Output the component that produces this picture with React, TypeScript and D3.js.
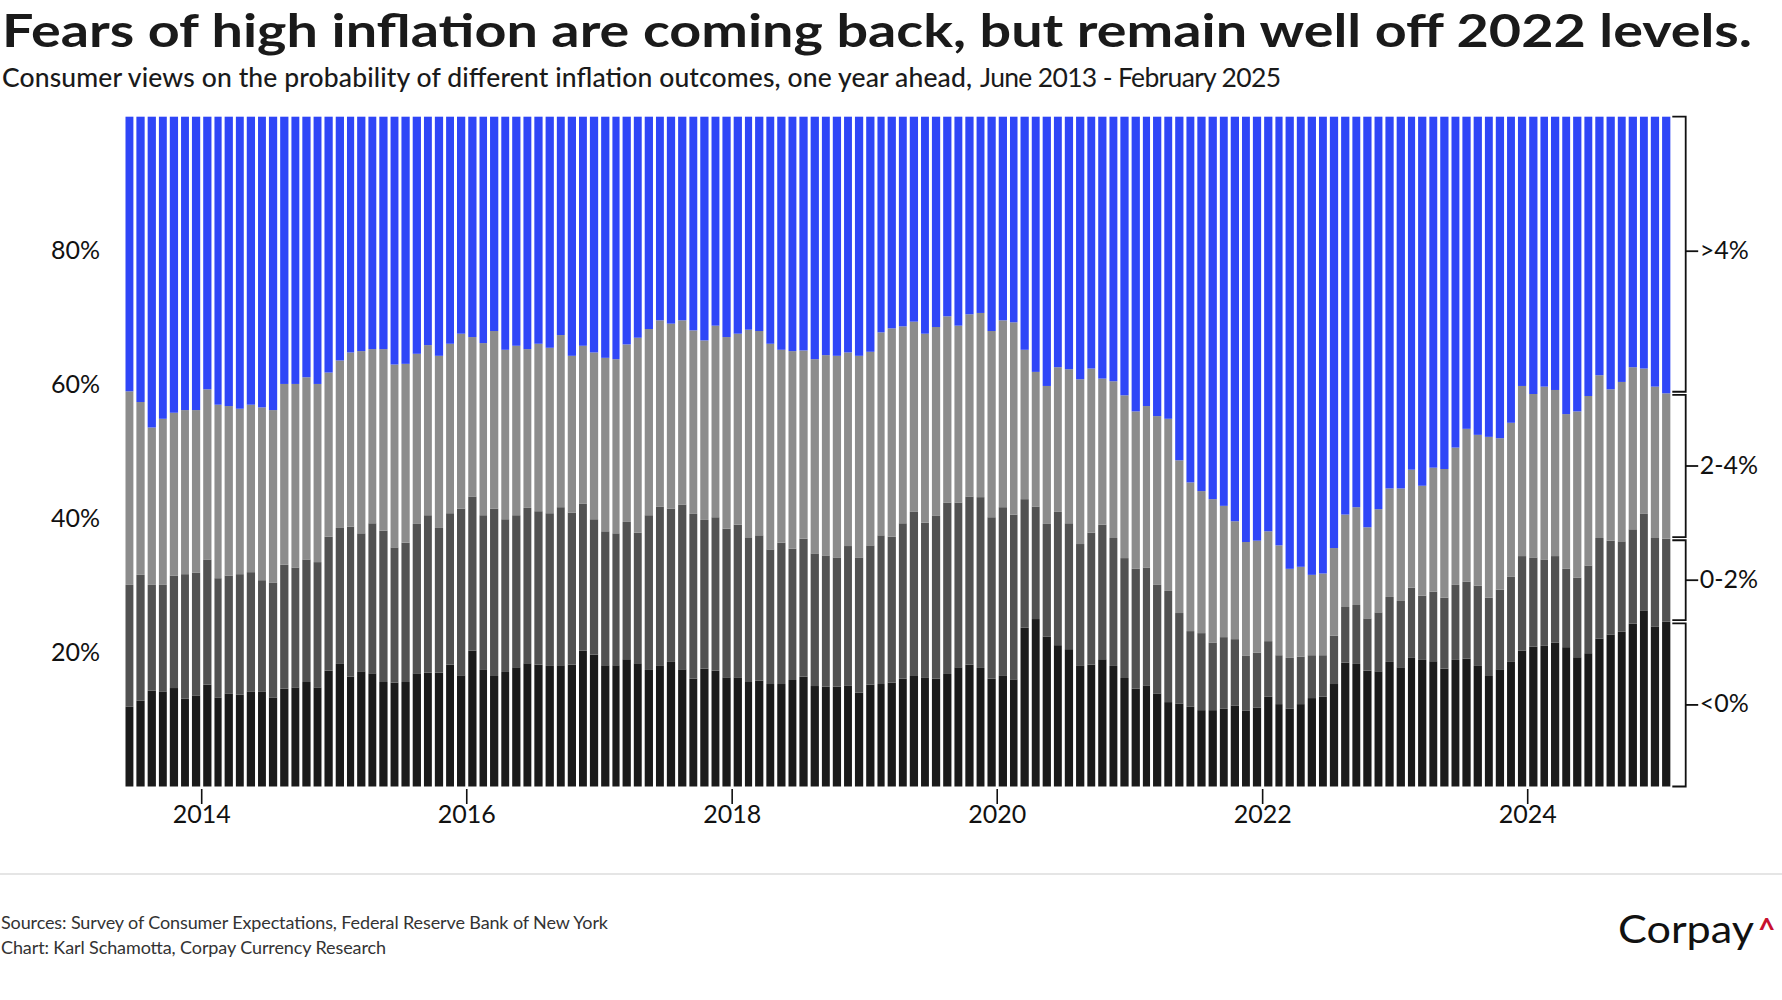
import React from "react";
import * as d3 from "d3";

// Monthly survey readings, June 2013 onward (share of probability, %)
const below0 = [11.9,12.8,14.3,14.2,14.7,13.1,13.6,15.2,13.3,13.9,13.7,14.2,14.2,13.3,14.6,14.8,15.6,14.8,17.3,18.3,16.4,17.2,16.9,15.6,15.5,15.6,16.9,17.0,17.0,18.2,16.6,20.3,17.4,16.5,17.1,17.8,18.4,18.2,18.0,18.1,18.2,20.3,19.7,18.1,18.1,19.0,18.4,17.4,18.0,18.6,17.5,16.1,17.6,17.3,16.3,16.3,15.6,15.8,15.3,15.3,15.9,16.4,15.0,14.9,14.9,15.1,14.0,15.2,15.3,15.5,16.1,16.5,16.3,16.1,16.8,17.8,18.2,17.7,16.1,16.6,16.0,23.7,25.0,22.4,21.1,20.5,18.0,18.2,19.0,18.0,16.2,14.6,15.1,13.9,12.6,12.4,11.9,11.4,11.4,11.6,12.1,11.3,11.8,13.4,12.3,11.6,12.3,13.2,13.4,15.3,18.5,18.3,17.3,17.2,18.6,17.8,19.2,18.9,18.7,17.6,18.9,19.1,18.0,16.5,17.5,18.6,20.3,20.9,21.0,21.5,20.8,19.3,19.9,22.1,22.7,23.1,24.3,26.3,23.9,24.6];
const from0to2 = [18.2,18.8,15.8,15.9,16.8,18.6,18.3,18.7,17.8,17.6,18.0,17.8,16.6,17.1,18.5,17.9,18.3,18.7,20.0,20.3,22.4,20.6,22.4,22.6,20.2,20.8,22.3,23.5,21.6,22.6,24.9,23.0,23.1,25.0,22.8,22.7,23.2,22.9,22.8,23.6,22.7,21.9,20.2,20.0,19.7,20.5,19.5,23.1,23.8,22.9,24.6,24.6,22.2,22.9,22.2,22.8,21.6,21.7,20.1,21.1,19.6,20.6,19.8,19.6,19.3,20.8,20.2,20.8,22.2,21.8,23.2,24.5,23.1,24.3,25.6,24.6,25.1,25.5,24.1,25.1,24.6,19.2,16.8,16.8,19.9,18.8,18.2,19.7,20.1,19.1,17.9,17.9,17.6,16.2,16.6,13.5,11.3,11.5,10.1,10.7,9.9,8.2,8.2,8.3,7.3,7.6,7.1,6.4,6.2,7.2,8.3,8.8,7.8,8.8,9.7,9.9,10.5,9.6,10.4,10.6,11.2,11.5,12.0,11.7,11.9,12.7,14.1,13.3,12.9,12.9,11.7,11.9,13.1,15.0,14.0,13.5,14.1,14.4,13.2,12.4];
const from2to4 = [28.9,25.8,23.5,24.8,24.3,24.5,24.3,25.4,25.9,25.3,24.7,25.0,25.8,25.8,27.0,27.4,27.2,26.6,24.5,25.0,26.0,27.2,26.0,27.1,27.3,26.7,25.4,25.4,25.7,25.3,26.1,23.8,25.7,26.5,25.3,25.3,23.7,25.0,24.7,25.7,23.4,23.6,24.9,25.9,26.0,26.5,29.1,27.8,27.8,27.6,27.5,27.4,26.8,28.6,28.6,28.5,31.0,30.5,30.7,28.8,29.5,28.1,29.0,29.9,30.1,28.9,30.1,28.9,30.3,31.1,29.4,28.4,28.2,28.2,27.8,26.4,27.2,27.5,27.8,27.9,28.7,22.3,20.1,20.6,21.6,23.0,24.6,24.5,21.8,23.4,24.3,23.5,24.1,25.2,25.7,22.8,22.2,21.2,21.4,19.6,17.6,17.0,16.7,16.4,16.4,13.3,13.4,12.0,12.2,13.1,13.8,14.6,13.6,15.4,16.2,16.8,17.6,16.4,18.5,19.2,20.5,22.8,22.5,24.0,22.6,23.0,25.4,24.4,25.8,24.8,23.1,24.8,25.3,24.3,22.6,23.8,24.2,21.7,22.6,21.7];
const above4 = [41.0,42.6,46.4,45.1,44.2,43.8,43.8,40.7,43.0,43.2,43.6,43.0,43.4,43.8,39.9,39.9,38.9,39.9,38.2,36.4,35.2,35.0,34.7,34.7,37.0,36.9,35.4,34.1,35.7,33.9,32.4,32.9,33.8,32.0,34.8,34.2,34.7,33.9,34.5,32.6,35.7,34.2,35.2,36.0,36.2,34.0,33.0,31.7,30.4,30.9,30.4,31.9,33.4,31.2,32.9,32.4,31.8,32.0,33.9,34.8,35.0,34.9,36.2,35.6,35.7,35.2,35.7,35.1,32.2,31.6,31.3,30.6,32.4,31.4,29.8,31.2,29.5,29.3,32.0,30.4,30.7,34.8,38.1,40.2,37.4,37.7,39.2,37.6,39.1,39.5,41.6,44.0,43.2,44.7,45.1,51.3,54.6,55.9,57.1,58.1,60.4,63.5,63.3,61.9,64.0,67.5,67.2,68.4,68.2,64.4,59.4,58.3,61.3,58.6,55.5,55.5,52.7,55.1,52.4,52.6,49.4,46.6,47.5,47.8,48.0,45.7,40.2,41.4,40.3,40.8,44.4,44.0,41.7,38.6,40.7,39.6,37.4,37.6,40.3,41.3];

const seriesKeys = ["below0", "from0to2", "from2to4", "above4"];
const seriesLabels = ["<0%", "0-2%", "2-4%", ">4%"];
const seriesColors = ["#1b1b1b", "#525252", "#8c8c8c", "#2f46f7"];
const yTickValues = [20, 40, 60, 80];
const xTickYears = [2014, 2016, 2018, 2020, 2022, 2024];

const FONT = "Lato, 'Noto Sans', 'DejaVu Sans', sans-serif";

export default function App() {
  const W = 1782;
  const H = 1000;

  const months = d3.timeMonth.range(
    new Date(2013, 5, 1),
    new Date(2013, 5 + below0.length, 1)
  );
  const rows = months.map((m, i) => ({
    date: m,
    below0: below0[i],
    from0to2: from0to2[i],
    from2to4: from2to4[i],
    above4: above4[i],
  }));
  const stacked = d3.stack<any>().keys(seriesKeys)(rows);

  const x = d3
    .scaleTime()
    .domain([new Date(2014, 0, 1), new Date(2024, 0, 1)])
    .range([201.7, 1527.7]);
  const y = d3.scaleLinear().domain([0, 100]).range([786.5, 116.7]);
  const pad = 1.5;

  const last = rows.length - 1;
  const axisX = 1685.7;

  return (
    <svg
      width={W}
      height={H}
      viewBox={`0 0 ${W} ${H}`}
      style={{ position: "absolute", left: 0, top: 0, background: "#fff" }}
      fontFamily={FONT}
    >
      <rect x={0} y={0} width={W} height={H} fill="#fff" />
      {/* Title */}
      <text x={2} y={47} fontSize={46} fontWeight={700} fill="#1a1a1a" textLength={1750} lengthAdjust="spacingAndGlyphs">
        Fears of high inflation are coming back, but remain well off 2022 levels.
      </text>
      <text x={2} y={87} fontSize={26.5} fontWeight={500} fill="#1a1a1a" textLength={970} lengthAdjust="spacing">
        Consumer views on the probability of different inflation outcomes, one year ahead,
      </text>
      <text x={980} y={87} fontSize={26.5} fontWeight={400} fill="#1a1a1a" textLength={301} lengthAdjust="spacing">
        June 2013 - February 2025
      </text>

      {/* Bars */}
      {stacked.map((layer, k) => (
        <g key={seriesKeys[k]} fill={seriesColors[k]}>
          {layer.map((d, i) => {
            const x0 = x(rows[i].date) + pad;
            const x1 = x(d3.timeMonth.offset(rows[i].date, 1)) - pad;
            return (
              <rect
                key={i}
                x={x0}
                width={x1 - x0}
                y={y(d[1])}
                height={y(d[0]) - y(d[1])}
              />
            );
          })}
        </g>
      ))}

      {/* Left axis labels */}
      {yTickValues.map((v) => (
        <text
          key={v}
          x={100}
          y={y(v) + 8.5}
          textAnchor="end"
          fontSize={25}
          fill="#111"
        >
          {v}%
        </text>
      ))}

      {/* Bottom axis */}
      {xTickYears.map((yr) => {
        const xx = x(new Date(yr, 0, 1));
        return (
          <g key={yr}>
            <line x1={xx} x2={xx} y1={789} y2={804} stroke="#111" strokeWidth={1.6} />
            <text x={xx} y={823} textAnchor="middle" fontSize={25} fill="#111">
              {yr}
            </text>
          </g>
        );
      })}

      {/* Right brackets with labels based on latest month */}
      {stacked.map((layer, k) => {
        const d = layer[last];
        const top = y(d[1]) + (k === stacked.length - 1 ? 0 : 1.6);
        const bot = y(d[0]) - (k === 0 ? 0 : 1.6);
        const mid = (top + bot) / 2 - (k === stacked.length - 1 ? 3 : 0);
        return (
          <g key={"br" + k} stroke="#111" strokeWidth={1.8} fill="none">
            <path d={`M${axisX - 13.4},${top}H${axisX}V${bot}H${axisX - 13.4}`} />
            <path d={`M${axisX},${mid}H${axisX + 12.5}`} />
            <text
              x={axisX + 14}
              y={mid + 7.5}
              fontSize={25}
              fill="#111"
              stroke="none"
            >
              {seriesLabels[k]}
            </text>
          </g>
        );
      })}

      {/* Footer */}
      <line x1={0} x2={W} y1={874} y2={874} stroke="#dcdcdc" strokeWidth={1.5} />
      <text x={1} y={929} fontSize={18} fill="#333" textLength={607} lengthAdjust="spacing">
        Sources: Survey of Consumer Expectations, Federal Reserve Bank of New York
      </text>
      <text x={1} y={954} fontSize={18} fill="#333" textLength={385} lengthAdjust="spacing">
        Chart: Karl Schamotta, Corpay Currency Research
      </text>
      <text x={1618} y={943} fontSize={38} fill="#111" textLength={136} lengthAdjust="spacingAndGlyphs">
        Corpay
      </text>
      <text x={1758} y={940} fontSize={30} fontWeight={700} fill="#c8102e">
        ^
      </text>
    </svg>
  );
}
